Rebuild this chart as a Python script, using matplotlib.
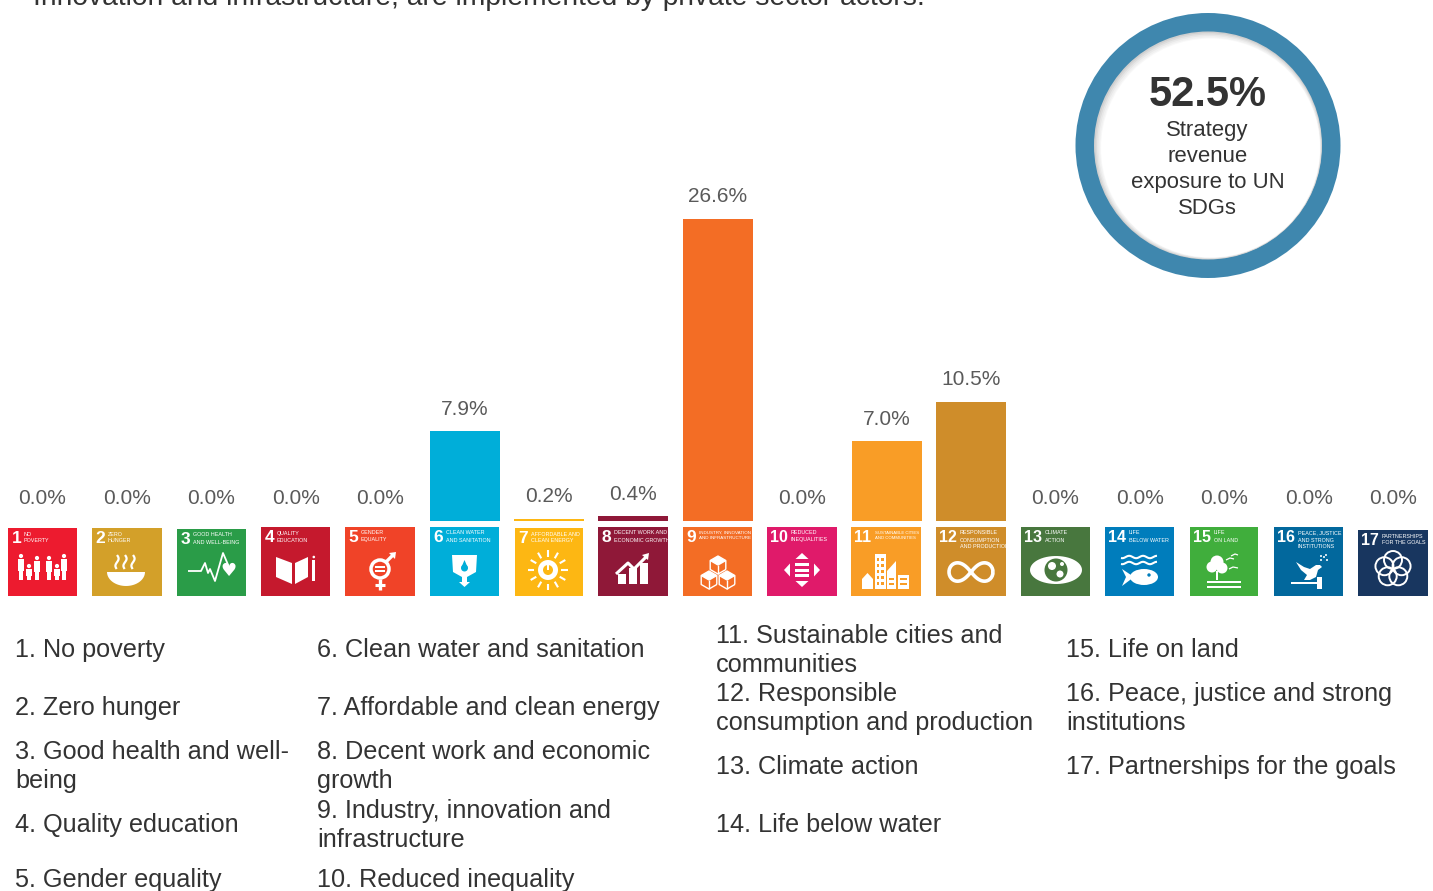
import numpy as np
import matplotlib
matplotlib.use('Agg')
import matplotlib.pyplot as plt
import matplotlib.patches as mpatches
from matplotlib.transforms import Affine2D

W, H = 1433, 891

# chart data
goals = [str(i) for i in range(1, 18)]
exposure = [0.0, 0.0, 0.0, 0.0, 0.0, 7.9, 0.2, 0.4, 26.6, 0.0, 7.0, 10.5, 0.0, 0.0, 0.0, 0.0, 0.0]
goal_colors = ['#ed1b2f', '#d3a029', '#2a9c48', '#c5192d', '#f04328', '#00aed9', '#fdb713', '#8f1838',
               '#f36d25', '#e01a6a', '#f99d26', '#cf8d2a', '#48773e', '#007dbc', '#40ae3c', '#02689d', '#18365f']
tile_titles = ['NO\nPOVERTY', 'ZERO\nHUNGER', 'GOOD HEALTH\nAND WELL-BEING', 'QUALITY\nEDUCATION',
               'GENDER\nEQUALITY', 'CLEAN WATER\nAND SANITATION', 'AFFORDABLE AND\nCLEAN ENERGY',
               'DECENT WORK AND\nECONOMIC GROWTH', 'INDUSTRY, INNOVATION\nAND INFRASTRUCTURE',
               'REDUCED\nINEQUALITIES', 'SUSTAINABLE CITIES\nAND COMMUNITIES',
               'RESPONSIBLE\nCONSUMPTION\nAND PRODUCTION', 'CLIMATE\nACTION', 'LIFE\nBELOW WATER',
               'LIFE\nON LAND', 'PEACE, JUSTICE\nAND STRONG\nINSTITUTIONS', 'PARTNERSHIPS\nFOR THE GOALS']
tile_left = [8, 92, 177, 261, 345, 430, 515, 598, 683, 767, 851, 936, 1021, 1105, 1190, 1274, 1358]
tile_right = [77, 162, 246, 330, 415, 499, 583, 668, 752, 837, 921, 1006, 1090, 1174, 1258, 1343, 1428]
tile_top = [528, 528, 529, 527, 527, 527, 528, 527, 527, 527, 527, 527, 527, 527, 527, 527, 530]

legend_lines = [
    (15, 657, '1. No poverty'), (15, 715, '2. Zero hunger'), (15, 759, '3. Good health and well-'),
    (15, 788, 'being'), (15, 832, '4. Quality education'), (15, 887, '5. Gender equality'),
    (317, 657, '6. Clean water and sanitation'), (317, 715, '7. Affordable and clean energy'),
    (317, 759, '8. Decent work and economic'), (317, 788, 'growth'),
    (317, 818, '9. Industry, innovation and'), (317, 847, 'infrastructure'),
    (317, 887, '10. Reduced inequality'),
    (716, 643, '11. Sustainable cities and'), (716, 672, 'communities'), (716, 701, '12. Responsible'),
    (716, 730, 'consumption and production'), (716, 774, '13. Climate action'), (716, 832, '14. Life below water'),
    (1066, 657, '15. Life on land'), (1066, 701, '16. Peace, justice and strong'),
    (1066, 730, 'institutions'), (1066, 774, '17. Partnerships for the goals'),
]
headline = 'Innovation and infrastructure, are implemented by private sector actors.'
total_text = '52.5%'
total_caption = ['Strategy', 'revenue', 'exposure to UN', 'SDGs']

FONT = 'Liberation Sans'
NARROW = ['Liberation Sans Narrow', 'Liberation Sans']
TEXT = '#333333'
plt.rcParams['font.family'] = FONT

fig = plt.figure(figsize=(W / 100, H / 100), dpi=100, facecolor='white')

# bars: y scale is 11.36 px per percent, baseline at y=521 px
base_px, px_per_pct = 521, 11.36
ymax = 30
step = (1393 - 42.5) / 16
left_px = 42.5 - step
right_px = 1393 + step
ax = fig.add_axes([left_px / W, (H - base_px) / H, (right_px - left_px) / W, ymax * px_per_pct / H])
ax.set_xlim(-1, 17)
ax.set_ylim(0, ymax)
ax.axis('off')
xpos = np.arange(len(goals))
ax.bar(xpos, exposure, width=70 / step, color=goal_colors, linewidth=0)
for x, v in zip(xpos, exposure):
    ax.annotate('%.1f%%' % v, (x, v), xytext=(0, 16), textcoords='offset points',
                ha='center', va='center', fontsize=15, color='#5a5a5a')

# overlay in pixel coords for tiles, legend and the ring
ov = fig.add_axes([0, 0, 1, 1])
ov.set_xlim(0, W)
ov.set_ylim(H, 0)
ov.axis('off')
ov.patch.set_alpha(0)


def poly(tr, pts, fc='white', **kw):
    ov.add_patch(mpatches.Polygon(pts, closed=True, fc=fc, ec='none', transform=tr, **kw))


def rect(tr, x, y, w, h, fc='white'):
    ov.add_patch(mpatches.Rectangle((x, y), w, h, fc=fc, ec='none', transform=tr))


def circ(tr, x, y, r, fc='white', ec='none', lw=0):
    ov.add_patch(mpatches.Circle((x, y), r, fc=fc, ec=ec, lw=lw, transform=tr))


def line(tr, xs, ys, lw=1.5, c='white'):
    ov.plot(xs, ys, color=c, lw=lw, transform=tr, solid_capstyle='butt')


def cube(tr, cx, cy, r):
    ang = np.radians(np.arange(30, 390, 60))
    hx = cx + r * np.cos(ang)
    hy = cy + r * np.sin(ang)
    poly(tr, [(hx[3], hy[3]), (hx[4], hy[4]), (hx[5], hy[5]), (cx, cy)])
    line(tr, np.r_[hx, hx[0]], np.r_[hy, hy[0]], lw=1)
    for i in (1, 3, 5):
        line(tr, [cx, hx[i]], [cy, hy[i]], lw=1)


def draw_icon(i, tr, col):
    if i == 0:
        for u, h in [(13, 23), (21, 13), (29, 21), (41, 21), (49, 13), (56, 23)]:
            circ(tr, u, 53 - h - 1, 2.1)
            rect(tr, u - 2.6, 53 - h + 2, 5.2, h * 0.5)
            rect(tr, u - 2, 53 - h * 0.6, 1.6, h * 0.6)
            rect(tr, u + 0.4, 53 - h * 0.6, 1.6, h * 0.6)
    elif i == 1:
        t = np.linspace(0, np.pi, 30)
        poly(tr, np.c_[34 + 19 * np.cos(t), 45 + 14 * np.sin(t)])
        v = np.linspace(28, 42, 20)
        for u in (25, 33, 41):
            line(tr, u + 1.6 * np.sin((v - 28) / 2.3), v, lw=1.6)
    elif i == 2:
        line(tr, [11, 24, 28, 31, 33, 38, 46, 52], [44, 44, 36, 46, 42, 54, 26, 40], lw=1.3)
        ov.text(51, 44, '\u2665', color='white', fontsize=13, ha='center', va='center',
                family='DejaVu Sans', transform=tr)
    elif i == 3:
        poly(tr, [(15, 30), (31, 36), (31, 57), (15, 50)])
        poly(tr, [(34, 36), (47, 30), (47, 50), (34, 57)])
        rect(tr, 51.5, 33, 2.6, 21)
        circ(tr, 52.8, 30, 1.3)
    elif i == 4:
        circ(tr, 35, 42, 9, fc='none', ec='white', lw=2.5)
        rect(tr, 30, 39, 10, 2)
        rect(tr, 30, 43, 10, 2)
        line(tr, [35, 35], [52, 63], lw=2.4)
        line(tr, [30, 40], [58, 58], lw=2.2)
        line(tr, [41, 49], [35, 27], lw=2.4)
        poly(tr, [(44, 26), (51, 25), (50, 32)])
    elif i == 5:
        poly(tr, [(22, 28), (47, 28), (46, 45), (37, 50), (37, 55), (40, 55), (34.5, 60), (29, 55), (32, 55), (32, 50), (23, 45)])
        circ(tr, 34.5, 41, 3.5, fc=col)
        poly(tr, [(34.5, 33), (31.5, 40), (37.5, 40)], fc=col)
    elif i == 6:
        for a in np.radians(np.arange(0, 360, 30)):
            line(tr, [33 + 13.5 * np.cos(a), 33 + 20 * np.cos(a)], [43 + 13.5 * np.sin(a), 43 + 20 * np.sin(a)], lw=1.5)
        circ(tr, 33, 43, 10)
        circ(tr, 33, 43, 5, fc=col)
        rect(tr, 32, 37, 2, 6, fc='white')
    elif i == 7:
        for u, top in [(20, 47), (31, 41), (42, 36)]:
            rect(tr, u, top, 8, 57 - top)
        line(tr, [18, 30, 36, 48], [47, 36, 42, 30], lw=2.2)
        poly(tr, [(44, 28), (51, 26), (50, 33)])
    elif i == 8:
        cube(tr, 35, 38, 9)
        cube(tr, 26, 53, 9)
        cube(tr, 44, 53, 9)
    elif i == 9:
        poly(tr, [(35, 26), (28.5, 32), (41.5, 32)])
        poly(tr, [(35, 60), (28.5, 54), (41.5, 54)])
        poly(tr, [(17, 43), (23, 36.5), (23, 49.5)])
        poly(tr, [(53, 43), (47, 36.5), (47, 49.5)])
        for v in (36, 41.5, 47):
            rect(tr, 28, v, 14, 3)
    elif i == 10:
        poly(tr, [(11, 62), (11, 52), (16.5, 46), (22, 52), (22, 62)])
        rect(tr, 24, 27, 11, 35)
        poly(tr, [(36, 62), (36, 44), (45, 34), (45, 62)])
        rect(tr, 47, 48, 11, 14)
        for v in (31, 37, 43, 49, 55):
            rect(tr, 26, v, 2.5, 3, fc=col)
            rect(tr, 30.5, v, 2.5, 3, fc=col)
        for v in (51, 56):
            rect(tr, 49, v, 7, 2, fc=col)
            rect(tr, 38, v, 5, 2, fc=col)
    elif i == 11:
        t = np.linspace(0, 2 * np.pi, 80)
        line(tr, 35 + 22 * np.cos(t) / (1 + np.sin(t) ** 2),
             45 + 26 * np.cos(t) * np.sin(t) / (1 + np.sin(t) ** 2), lw=2.6)
    elif i == 12:
        t = np.linspace(0, np.pi, 30)
        ex = 35 + 26 * np.cos(t)
        poly(tr, np.r_[np.c_[ex, 43 + 14 * np.sin(t)], np.c_[ex[::-1], 43 - 14 * np.sin(t)]])
        circ(tr, 35, 43, 11.5, fc=col)
        circ(tr, 31, 39, 4)
        circ(tr, 39, 47, 3.5)
        circ(tr, 41, 37, 2)
    elif i == 13:
        u = np.linspace(16, 52, 40)
        for v in (30, 36):
            line(tr, u, v + 1.2 * np.sin(u / 2.2), lw=1.5)
        ov.add_patch(mpatches.Ellipse((39, 50), 28, 16, fc='white', ec='none', transform=tr))
        poly(tr, [(17, 42), (29, 50), (17, 59), (21, 50)])
        circ(tr, 44, 48, 1.7, fc=col)
    elif i == 14:
        circ(tr, 27, 35, 6.5)
        circ(tr, 22, 40, 5.5)
        circ(tr, 32, 41, 5.5)
        rect(tr, 26, 44, 2, 9)
        rect(tr, 17, 54, 34, 2)
        rect(tr, 17, 59, 34, 2)
        line(tr, [36, 40, 44], [33, 31, 32], lw=0.9)
        line(tr, [41, 45, 48], [29, 27, 28], lw=0.9)
        line(tr, [39, 43, 48], [42, 40, 41], lw=0.9)
    elif i == 15:
        # dove over a gavel
        poly(tr, [(22, 35), (30, 40), (36, 42), (42, 38), (46, 38), (48, 40), (44, 43),
                  (42, 50), (36, 53), (30, 53), (33, 48), (27, 43)])
        for u, v in [(47, 33), (50, 30), (47, 29), (53, 33), (52, 28)]:
            circ(tr, u, v, 1)
        rect(tr, 17, 55, 27, 2)
        rect(tr, 43, 50, 5, 12)
    elif i == 16:
        for a in np.radians(np.arange(90, 450, 72)):
            circ(tr, 35 + 9 * np.cos(a), 42 - 9 * np.sin(a), 9, fc='none', ec='white', lw=1.4)


for i in range(len(goals)):
    x0, x1, y0 = tile_left[i], tile_right[i], tile_top[i]
    ov.add_patch(mpatches.Rectangle((x0, y0), x1 - x0, 596 - y0, fc=goal_colors[i], ec='none'))
    tr = Affine2D().translate(x0, 596 - 69) + ov.transData
    ov.text(x0 + 3.5, y0 + 3, goals[i], color='white', fontsize=11.5 if i >= 9 else 12.5, fontweight='bold',
            family=NARROW, ha='left', va='top')
    longest = max(len(s) for s in tile_titles[i].split('\n'))
    title_x = 24 if i >= 9 else 16
    # long titles have to stay inside the tile
    title_size = min(3.9, 3.9 * (x1 - x0 - title_x - 2) / (longest * 3.1))
    ov.text(x0 + title_x, y0 + 3.5, tile_titles[i], color='white', fontsize=title_size,
            family=NARROW, ha='left', va='top', linespacing=1.5)
    draw_icon(i, tr, goal_colors[i])

# legend under the tiles
for x, y, s in legend_lines:
    ov.text(x, y, s, fontsize=18.2, color=TEXT, ha='left', va='baseline')

# sentence cut off at the top of the page
ov.text(33, 5, headline, fontsize=20.3, color=TEXT, ha='left', va='baseline', clip_on=False)

# ring
cx, cy = 1208, 145.5
ov.add_patch(mpatches.Circle((cx, cy), 132.5, fc='#3f87ae', ec='none'))
for r, g in [(114, '#cfcfcf'), (113, '#dcdcdc'), (112, '#e8e8e8'), (111, '#f1f1f1'), (110, '#f8f8f8')]:
    ov.add_patch(mpatches.Circle((cx + (114 - r) * 0.5, cy + (114 - r) * 0.5), r, fc=g, ec='none'))
ov.add_patch(mpatches.Circle((cx + 2.5, cy + 2.5), 109.5, fc='white', ec='none'))
ov.text(cx, 106, total_text, fontsize=30, fontweight='bold', color=TEXT, ha='center', va='baseline')
for k, s in enumerate(total_caption):
    ov.text(cx - 0.5, 136 + 26 * k, s, fontsize=15.9, color=TEXT, ha='center', va='baseline')

fig.savefig('out.png', dpi=100)
